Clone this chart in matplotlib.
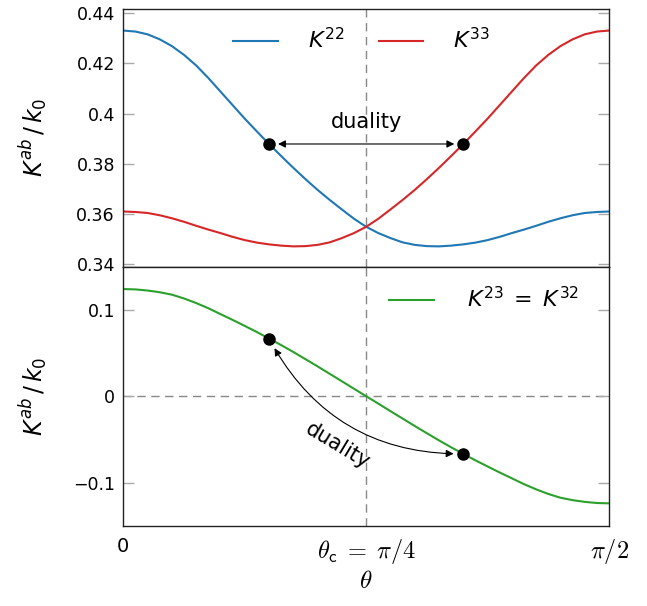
import numpy as np
import matplotlib
matplotlib.use('Agg')
import matplotlib.pyplot as plt

# theta as a fraction of pi/2
theta_frac = [0.000, 0.025, 0.050, 0.075, 0.100, 0.125, 0.150, 0.175, 0.200, 0.225,
              0.250, 0.275, 0.300, 0.325, 0.350, 0.375, 0.400, 0.425, 0.450, 0.475,
              0.500, 0.525, 0.550, 0.575, 0.600, 0.625, 0.650, 0.675, 0.700, 0.725,
              0.750, 0.775, 0.800, 0.825, 0.850, 0.875, 0.900, 0.925, 0.950, 0.975, 1.000]
k22 = [0.4331, 0.4327, 0.4316, 0.4296, 0.4269, 0.4234, 0.4192, 0.4142, 0.4088, 0.4034,
       0.3980, 0.3929, 0.3879, 0.3831, 0.3784, 0.3739, 0.3696, 0.3656, 0.3618, 0.3581,
       0.3549, 0.3524, 0.3504, 0.3487, 0.3477, 0.3472, 0.3471, 0.3474, 0.3479, 0.3486,
       0.3496, 0.3509, 0.3524, 0.3538, 0.3553, 0.3569, 0.3583, 0.3595, 0.3604, 0.3608, 0.3610]
k33 = [0.3610, 0.3608, 0.3604, 0.3595, 0.3583, 0.3569, 0.3553, 0.3538, 0.3524, 0.3509,
       0.3496, 0.3486, 0.3479, 0.3474, 0.3471, 0.3472, 0.3477, 0.3487, 0.3504, 0.3524,
       0.3549, 0.3581, 0.3618, 0.3656, 0.3696, 0.3739, 0.3784, 0.3831, 0.3879, 0.3929,
       0.3980, 0.4034, 0.4088, 0.4142, 0.4192, 0.4234, 0.4269, 0.4296, 0.4316, 0.4327, 0.4331]
k23 = [0.1241, 0.1237, 0.1224, 0.1204, 0.1176, 0.1132, 0.1079, 0.1019, 0.0951, 0.0884,
       0.0814, 0.0743, 0.0668, 0.0592, 0.0512, 0.0429, 0.0345, 0.0259, 0.0173, 0.0086,
       0.0000, -0.0086, -0.0173, -0.0259, -0.0345, -0.0429, -0.0512, -0.0592, -0.0668, -0.0743,
       -0.0814, -0.0884, -0.0951, -0.1019, -0.1079, -0.1132, -0.1176, -0.1204, -0.1224, -0.1237, -0.1241]

dual_frac = [0.30, 0.70]
dual_top = [0.3879, 0.3879]
dual_bot = [0.0668, -0.0668]

top_ticks = [0.34, 0.36, 0.38, 0.40, 0.42, 0.44]
top_labels = ['0.34', '0.36', '0.38', '0.4', '0.42', '0.44']
bot_ticks = [-0.1, 0.0, 0.1]
bot_labels = ['\u22120.1', '0', '0.1']
x_labels = ['0', r'$\theta_{\mathsf{c}}\;=\;\pi/4$', r'$\pi/2$']

plt.rcParams['font.family'] = ['DejaVu Sans']
plt.rcParams['mathtext.fontset'] = 'dejavusans'

th = np.array(theta_frac) * np.pi / 2
thd = np.array(dual_frac) * np.pi / 2

fig = plt.figure(figsize=(6.47, 6.06), dpi=100)
ax1 = fig.add_axes([0.1906, 0.5599, 0.7507, 0.4257])
ax2 = fig.add_axes([0.1906, 0.1325, 0.7507, 0.4274])

blue, red, green = '#1f77b4', '#d62728', '#2ca02c'

for ax in (ax1, ax2):
    ax.set_xlim(0, np.pi / 2)
    ax.axvline(np.pi / 4, color='#888888', lw=1.0, ls=(0, (6, 4)), zorder=1)
    ax.tick_params(axis='y', direction='in', length=8, width=1, color='#aaaaaa',
                   left=True, right=True, labelsize=12.5, pad=6)
    ax.tick_params(axis='x', length=0)
    for s in ax.spines.values():
        s.set_color('#222222')
        s.set_linewidth(1.0)

ax1.plot(th, k22, color=blue, lw=1.5, label=r'$K^{22}$')
ax1.plot(th, k33, color=red, lw=1.5, label=r'$K^{33}$')
ax1.plot(thd, dual_top, 'o', color='black', ms=8, zorder=5)
ax1.set_ylim(0.339, 0.4418)
ax1.set_yticks(top_ticks)
ax1.set_yticklabels(top_labels)
ax1.set_xticks([])
ax1.annotate('', xy=(thd[1], dual_top[1]), xytext=(thd[0], dual_top[0]),
             arrowprops=dict(arrowstyle='<|-|>', color='black', lw=0.8,
                             shrinkA=6.5, shrinkB=6.5, mutation_scale=11))
ax1.text(np.pi / 4, 0.3967, 'duality', ha='center', va='center', fontsize=15)
ax1.set_ylabel(r'$K^{ab}\,/\,k_0$', fontsize=17)
ax1.yaxis.set_label_coords(-0.15, 0.5)
ax1.legend(loc='center', bbox_to_anchor=(0.5587, 0.934), bbox_transform=fig.transFigure,
           ncol=2, frameon=False, fontsize=16, handlelength=2.0, handletextpad=1.35,
           columnspacing=1.55)

ax2.plot(th, k23, color=green, lw=1.5, label=r'$K^{23}\;=\;K^{32}$')
ax2.plot(thd, dual_bot, 'o', color='black', ms=8, zorder=5)
ax2.axhline(0, color='#888888', lw=1.0, ls=(0, (6, 4)), zorder=1)
ax2.set_ylim(-0.15, 0.15)
ax2.set_yticks(bot_ticks)
ax2.set_yticklabels(bot_labels)
ax2.set_xticks([0, np.pi / 4, np.pi / 2])
ax2.set_xticklabels(x_labels)
xt = ax2.get_xticklabels()
xt[0].set_fontsize(14)
for t in xt[1:]:
    t.set_fontsize(17.5)
    t.set_math_fontfamily('cm')
ax2.tick_params(axis='x', pad=8)
ax2.annotate('', xy=(thd[0], dual_bot[0]), xytext=(thd[1], dual_bot[1]),
             arrowprops=dict(arrowstyle='<|-|>', color='black', lw=0.8,
                             shrinkA=7, shrinkB=8, mutation_scale=11,
                             connectionstyle='arc3,rad=-0.3'))
ax2.text(0.6944, -0.058, 'duality', ha='center', va='center', fontsize=15, rotation=-31)
ax2.set_ylabel(r'$K^{ab}\,/\,k_0$', fontsize=17)
ax2.yaxis.set_label_coords(-0.15, 0.5)
ax2.set_xlabel(r'$\theta$', fontsize=18, math_fontfamily='cm', labelpad=2)
ax2.legend(loc='center', bbox_to_anchor=(0.7488, 0.5066), bbox_transform=fig.transFigure,
           frameon=False, fontsize=16, handlelength=2.0, handletextpad=1.5)

fig.savefig('out.png', dpi=100)
